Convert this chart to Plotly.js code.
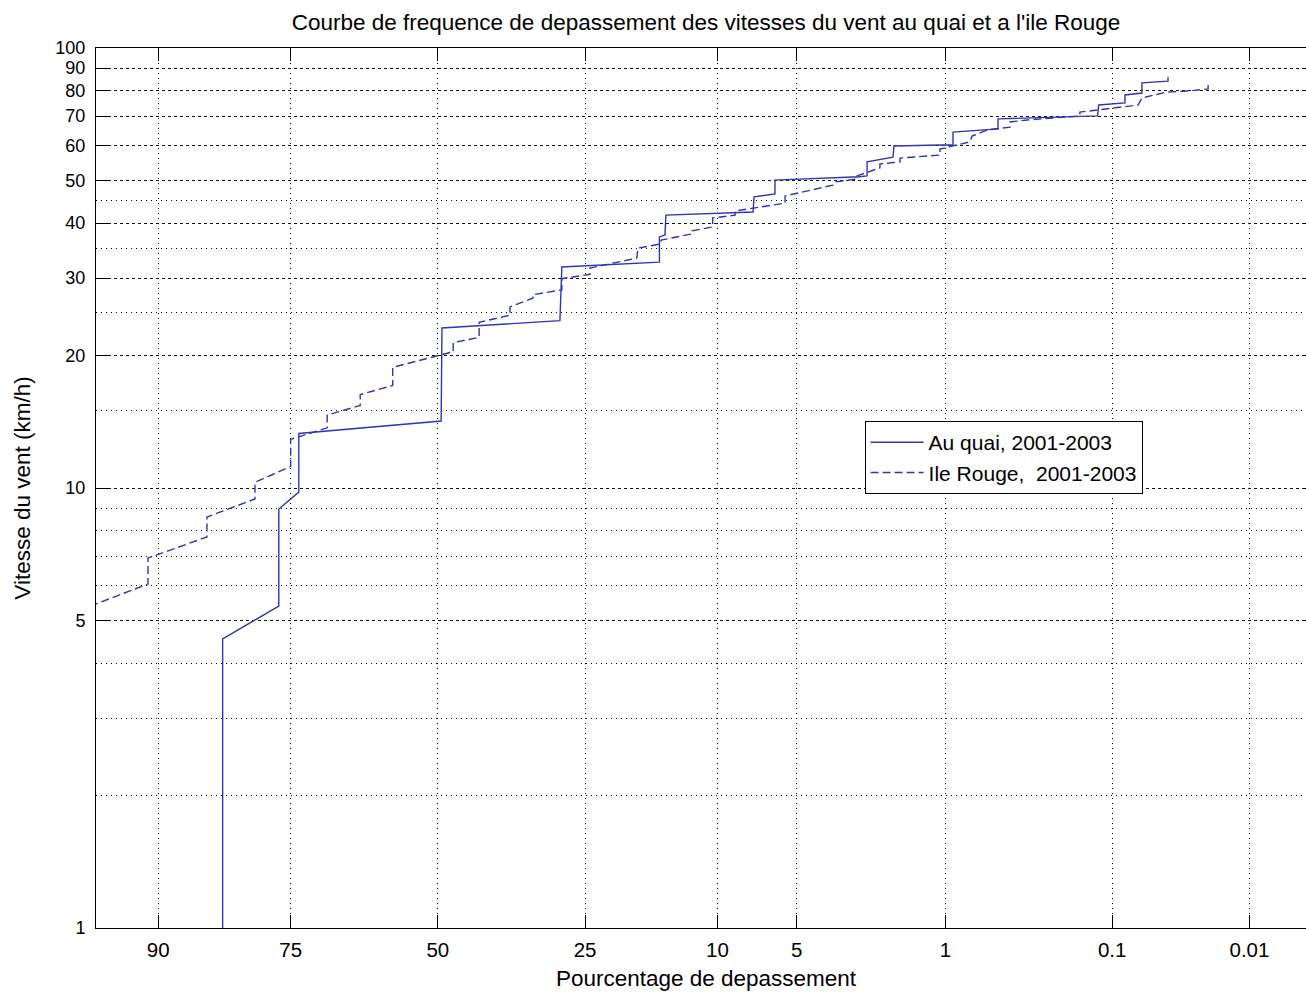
<!DOCTYPE html>
<html><head><meta charset="utf-8">
<script src="https://cdn.plot.ly/plotly-3.0.1.min.js"></script>
<style>html,body{margin:0;padding:0;overflow:hidden;background:#fff}#chart{width:1316px;height:992px}</style>
</head><body><div id="chart"></div>
<script>
// Exceedance percentage (%) and wind speed (km/h)
const quaiPct = [83.8, 83.8, 76.7, 76.7, 73.8, 73.8, 49.4, 49.25, 28.8, 28.5, 15.5, 15.5, 14.9, 14.8, 7.43, 7.37, 6.12, 6.12, 2.86, 2.74, 2.46, 2.46, 1.85, 1.83, 1.07, 0.912, 0.912, 0.513, 0.513, 0.125, 0.123, 0.082, 0.082, 0.0627, 0.0627, 0.041, 0.041];
const quaiSpeed = [1.0, 4.54, 5.39, 8.96, 9.79, 13.3, 14.2, 23.1, 24.0, 31.8, 32.6, 37.2, 37.6, 41.7, 42.4, 45.9, 46.6, 50.1, 50.9, 50.9, 51.2, 55.1, 56.5, 59.9, 60.2, 60.2, 64.4, 65.5, 69.0, 70.1, 74.2, 75.0, 78.2, 79.0, 83.3, 84.1, 85.9];
const rougePct = [95, 90.8, 90.8, 85.5, 85.5, 79.9, 79.9, 75.0, 75.0, 69.4, 69.4, 63.9, 63.9, 58.2, 58.2, 47.2, 47.2, 42.5, 42.5, 37.05, 37.05, 33.15, 33.15, 28.5, 28.5, 24.3, 24.3, 18.1, 17.95, 15.4, 15.3, 12.2, 12.2, 10.4, 10.4, 8.66, 8.66, 5.58, 5.58, 3.51, 3.44, 2.74, 2.74, 2.14, 2.14, 1.71, 1.71, 1.07, 1.07, 0.737, 0.718, 0.593, 0.437, 0.437, 0.347, 0.163, 0.163, 0.0667, 0.0627, 0.0419, 0.0284, 0.0208, 0.0208];
const rougeSpeed = [5.27, 6.05, 6.93, 7.74, 8.59, 9.44, 10.3, 11.2, 12.9, 13.7, 14.65, 15.4, 16.3, 17.1, 18.8, 20.4, 21.4, 22.0, 23.8, 24.7, 25.8, 27.0, 27.5, 28.2, 29.9, 30.6, 31.6, 33.3, 35.1, 35.85, 36.6, 37.8, 38.4, 39.2, 41.1, 41.7, 42.6, 44.4, 46.1, 48.8, 49.6, 50.4, 51.2, 53.4, 54.5, 55.1, 56.2, 57.1, 58.95, 61.2, 63.1, 65.1, 66.1, 67.9, 68.6, 70.1, 71.5, 74.2, 77.0, 79.4, 79.9, 80.7, 82.4];

const xTickPct = [90, 75, 50, 25, 10, 5, 1, 0.1, 0.01];
const xTickText = ['90', '75', '50', '25', '10', '5', '1', '0.1', '0.01'];
const yTickVals = [1, 5, 10, 20, 30, 40, 50, 60, 70, 80, 90, 100];
const yTickText = ['1', '5', '10', '20', '30', '40', '50', '60', '70', '80', '90', '100'];
const yMinorVals = [2, 3, 4, 6, 7, 8, 9, 15, 25, 35, 45];
const xRangePct = [94.14, 0.00286];

const seriesNames = ['Au quai, 2001-2003', 'Ile Rouge,  2001-2003'];

// Normal probability scale (inverse normal CDF, Acklam)
function norminv(p) {
  const a = [-3.969683028665376e+01, 2.209460984245205e+02, -2.759285104469687e+02, 1.383577518672690e+02, -3.066479806614716e+01, 2.506628277459239e+00];
  const b = [-5.447609879822406e+01, 1.615858368580409e+02, -1.556989798598866e+02, 6.680131188771972e+01, -1.328068155288572e+01];
  const c = [-7.784894002430293e-03, -3.223964580411365e-01, -2.400758277161838e+00, -2.549732539343734e+00, 4.374664141464968e+00, 2.938163982698783e+00];
  const d = [7.784695709041462e-03, 3.224671290700398e-01, 2.445134137142996e+00, 3.754408661907416e+00];
  const plow = 0.02425, phigh = 1 - plow;
  let q, r;
  if (p < plow) {
    q = Math.sqrt(-2 * Math.log(p));
    return (((((c[0]*q+c[1])*q+c[2])*q+c[3])*q+c[4])*q+c[5]) / ((((d[0]*q+d[1])*q+d[2])*q+d[3])*q+1);
  } else if (p <= phigh) {
    q = p - 0.5; r = q*q;
    return (((((a[0]*r+a[1])*r+a[2])*r+a[3])*r+a[4])*r+a[5])*q / (((((b[0]*r+b[1])*r+b[2])*r+b[3])*r+b[4])*r+1);
  } else {
    q = Math.sqrt(-2 * Math.log(1 - p));
    return -(((((c[0]*q+c[1])*q+c[2])*q+c[3])*q+c[4])*q+c[5]) / ((((d[0]*q+d[1])*q+d[2])*q+d[3])*q+1);
  }
}
const pctToZ = pct => norminv(1 - pct / 100);

const FONT = 'Liberation Sans, Arial, Helvetica, sans-serif';
const LINE = '#3434b0';

const traces = [
  {x: quaiPct.map(pctToZ), y: quaiSpeed, type: 'scatter', mode: 'lines', name: seriesNames[0],
   line: {color: LINE, width: 1.4}, hoverinfo: 'skip'},
  {x: rougePct.map(pctToZ), y: rougeSpeed, type: 'scatter', mode: 'lines', name: seriesNames[1],
   line: {color: LINE, width: 1.4, dash: '8px,4px'}, hoverinfo: 'skip'}
];

const layout = {
  width: 1316, height: 992,
  margin: {l: 96, r: 0, t: 48, b: 64},
  paper_bgcolor: '#fff', plot_bgcolor: '#fff',
  font: {family: FONT, color: '#000', size: 20},
  showlegend: true,
  title: {text: 'Courbe de frequence de depassement des vitesses du vent au quai et a l\'ile Rouge',
          font: {family: FONT, size: 22.5, color: '#000'}, xref: 'paper', x: 0.5, xanchor: 'center',
          yref: 'container', y: 0.978, yanchor: 'middle'},
  xaxis: {
    range: xRangePct.map(pctToZ), tickmode: 'array', tickvals: xTickPct.map(pctToZ), ticktext: xTickText,
    ticks: 'inside', ticklen: 13, tickcolor: '#000', tickwidth: 1,
    showline: true, linecolor: '#000', linewidth: 1, mirror: 'ticks',
    showgrid: true, gridcolor: '#000', gridwidth: 1, griddash: '1px,4px', zeroline: false,
    tickfont: {size: 20.5}, ticklabelstandoff: 3,
    title: {text: 'Pourcentage de depassement', font: {size: 22.5}, standoff: 10}
  },
  yaxis: {
    type: 'log', range: [0, 2], tickmode: 'array', tickvals: yTickVals, ticktext: yTickText,
    ticks: 'inside', ticklen: 13, tickcolor: '#000', tickwidth: 1,
    showline: true, linecolor: '#000', linewidth: 1, mirror: 'ticks',
    showgrid: true, gridcolor: '#111', gridwidth: 1, griddash: '3px,3px', zeroline: false,
    minor: {tickmode: 'array', tickvals: yMinorVals, showgrid: true, gridcolor: '#000', gridwidth: 1, griddash: '1px,4px', ticks: ''},
    tickfont: {size: 18}, ticklabelstandoff: 6,
    title: {text: 'Vitesse du vent (km/h)', font: {size: 22.5}, standoff: 18}
  },
  legend: {x: 0.630, y: 0.576, xanchor: 'left', yanchor: 'top', bgcolor: '#fff', bordercolor: '#000', borderwidth: 1,
           font: {size: 21}, tracegroupgap: 0, itemwidth: 53}
};

Plotly.newPlot('chart', traces, layout, {displayModeBar: false, staticPlot: true});
</script>
</body></html>
